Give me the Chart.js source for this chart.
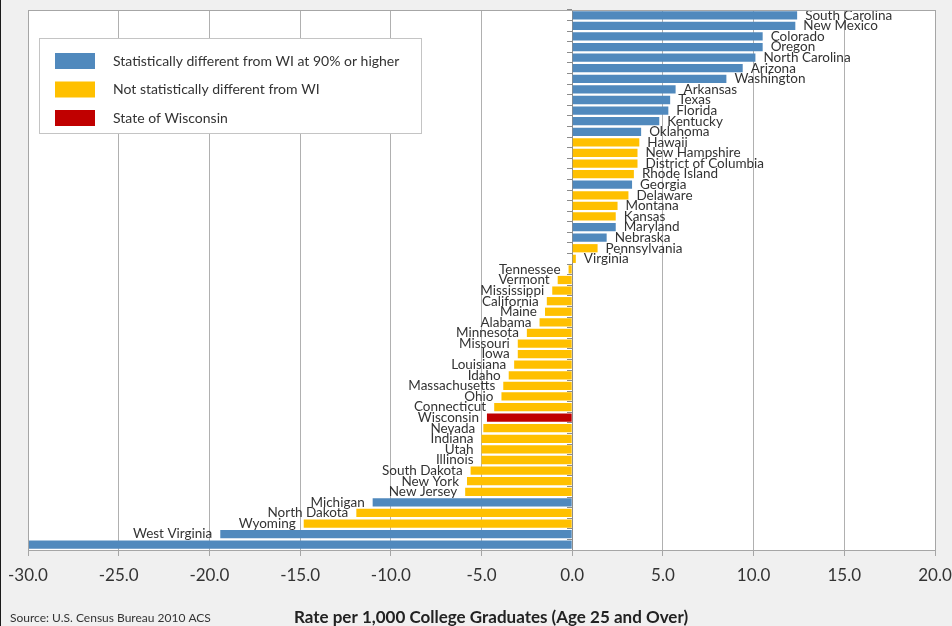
<!DOCTYPE html>
<html>
<head>
<meta charset="utf-8">
<script src="https://cdn.jsdelivr.net/npm/chart.js@4/dist/chart.umd.min.js"></script>
<style>
  html, body { margin: 0; padding: 0; background: #f0f0f0; }
  canvas { display: block; }
</style>
</head>
<body>
<canvas id="rate-chart" width="952" height="626"></canvas>
<script>
// States, top to bottom (last bar runs past the axis minimum)
const states = [
  "South Carolina", "New Mexico", "Colorado", "Oregon", "North Carolina",
  "Arizona", "Washington", "Arkansas", "Texas", "Florida", "Kentucky",
  "Oklahoma", "Hawaii", "New Hampshire", "District of Columbia",
  "Rhode Island", "Georgia", "Delaware", "Montana", "Kansas", "Maryland",
  "Nebraska", "Pennsylvania", "Virginia", "Tennessee", "Vermont",
  "Mississippi", "California", "Maine", "Alabama", "Minnesota", "Missouri",
  "Iowa", "Louisiana", "Idaho", "Massachusetts", "Ohio", "Connecticut",
  "Wisconsin", "Nevada", "Indiana", "Utah", "Illinois", "South Dakota",
  "New York", "New Jersey", "Michigan", "North Dakota", "Wyoming",
  "West Virginia", "Alaska"
];

// Rate per 1,000 college graduates
const rates = [
  12.4, 12.3, 10.5, 10.5, 10.1,
  9.4, 8.5, 5.7, 5.4, 5.3, 4.8,
  3.8, 3.7, 3.6, 3.6,
  3.4, 3.3, 3.1, 2.5, 2.4, 2.4,
  1.9, 1.4, 0.2, -0.2, -0.8,
  -1.1, -1.4, -1.5, -1.8, -2.5, -3.0,
  -3.0, -3.2, -3.5, -3.8, -3.9, -4.3,
  -4.7, -4.9, -5.0, -5.0, -5.0, -5.6,
  -5.8, -5.9, -11.0, -11.9, -14.8,
  -19.4, -30.0
];

// d = statistically different, n = not different, w = Wisconsin
const status = [
  "d", "d", "d", "d", "d",
  "d", "d", "d", "d", "d", "d",
  "d", "n", "n", "n",
  "n", "d", "n", "n", "n", "d",
  "d", "n", "n", "n", "n",
  "n", "n", "n", "n", "n", "n",
  "n", "n", "n", "n", "n", "n",
  "w", "n", "n", "n", "n", "n",
  "n", "n", "d", "n", "n",
  "d", "d"
];

const legendKeys = ["d", "n", "w"];
const legendLabels = [
  "Statistically different from WI at 90% or higher",
  "Not statistically different from WI",
  "State of Wisconsin"
];
const statusColors = { d: "#5089bd", n: "#ffc000", w: "#c00000" };

const xMin = -30, xMax = 20, xStep = 5;

const FONT = "Lato, 'Open Sans', sans-serif";
const TEXT = "#333333";

// background, plot frame and the left edge line
const frame = {
  id: "frame",
  beforeDraw(chart) {
    const { ctx, chartArea: a, width, height } = chart;
    ctx.save();
    ctx.fillStyle = "#f0f0f0";
    ctx.fillRect(0, 0, width, height);
    ctx.fillStyle = "#ffffff";
    ctx.fillRect(a.left, a.top, a.right - a.left, a.bottom - a.top);
    ctx.fillStyle = "#1a1a1a";
    ctx.fillRect(0, 0, 1, height);
    ctx.restore();
  },
  afterDraw(chart) {
    const { ctx, chartArea: a } = chart;
    ctx.save();
    ctx.strokeStyle = "#a6a6a6";
    ctx.lineWidth = 1;
    ctx.strokeRect(Math.round(a.left) + 0.5, Math.round(a.top) + 0.5,
      Math.round(a.right - a.left), Math.round(a.bottom - a.top));
    ctx.restore();
  }
};

// state names next to the bar ends
const barNames = {
  id: "barNames",
  afterDatasetsDraw(chart) {
    const { ctx } = chart;
    const meta = chart.getDatasetMeta(0);
    ctx.save();
    ctx.font = "13.5px " + FONT;
    ctx.fillStyle = TEXT;
    ctx.textBaseline = "middle";
    meta.data.forEach((bar, i) => {
      const v = rates[i];
      if (v <= xMin) return;
      if (v >= 0) {
        ctx.textAlign = "left";
        ctx.fillText(states[i], bar.x + 8, bar.y);
      } else {
        ctx.textAlign = "right";
        ctx.fillText(states[i], bar.x - 8, bar.y);
      }
    });
    ctx.restore();
  }
};

// boxed legend inside the plot, plus axis title and source note
const notes = {
  id: "notes",
  afterDraw(chart) {
    const { ctx, chartArea: a, width, height } = chart;
    ctx.save();
    const bx = a.left + 11, by = a.top + 28, bw = 382, bh = 95;
    ctx.fillStyle = "#ffffff";
    ctx.fillRect(bx, by, bw, bh);
    ctx.strokeStyle = "#c4c4c4";
    ctx.strokeRect(bx + 0.5, by + 0.5, bw, bh);
    ctx.font = "14px " + FONT;
    ctx.textAlign = "left";
    ctx.textBaseline = "middle";
    legendKeys.forEach((k, i) => {
      const cy = by + 23 + i * 28.5;
      ctx.fillStyle = statusColors[k];
      ctx.fillRect(bx + 16, cy - 8, 40, 16);
      ctx.fillStyle = TEXT;
      ctx.fillText(legendLabels[i], bx + 74, cy);
    });

    ctx.font = "bold 17px " + FONT;
    ctx.textAlign = "center";
    ctx.fillStyle = "#222222";
    ctx.fillText("Rate per 1,000 College Graduates (Age 25 and Over)", 491, height - 8);
    ctx.font = "12px " + FONT;
    ctx.textAlign = "left";
    ctx.fillStyle = TEXT;
    ctx.fillText("Source: U.S. Census Bureau 2010 ACS", 10, height - 8);
    ctx.restore();
  }
};

new Chart("rate-chart", {
  type: "bar",
  data: {
    labels: states,
    datasets: [{
      data: rates,
      backgroundColor: status.map(s => statusColors[s]),
      borderWidth: 0,
      barPercentage: 0.78,
      categoryPercentage: 1
    }]
  },
  options: {
    indexAxis: "y",
    responsive: false,
    animation: false,
    layout: { padding: { left: 28, right: 17, top: 10, bottom: 0 } },
    plugins: {
      legend: { display: false },
      tooltip: { enabled: false }
    },
    scales: {
      x: {
        type: "linear",
        min: xMin,
        max: xMax,
        afterFit(scale) {
          scale.height = 76;
          scale.paddingLeft = 0;
          scale.paddingRight = 0;
        },
        ticks: {
          stepSize: xStep,
          padding: 9,
          color: TEXT,
          font: { family: FONT, size: 17 },
          maxRotation: 0,
          callback: v => v.toFixed(1)
        },
        grid: {
          color: "#b0b0b0",
          tickColor: "#a6a6a6",
          tickLength: 6
        },
        border: { color: "#a6a6a6" }
      },
      y: {
        type: "category",
        position: { x: 0 },
        afterFit(scale) {
          scale.width = 0;
          scale.paddingTop = 0;
          scale.paddingBottom = 0;
        },
        ticks: { display: false },
        grid: {
          drawOnChartArea: false,
          drawTicks: true,
          tickLength: 5,
          tickColor: "#8c8c8c"
        },
        border: { color: "#8c8c8c" }
      }
    }
  },
  plugins: [frame, barNames, notes]
});
</script>
</body>
</html>
